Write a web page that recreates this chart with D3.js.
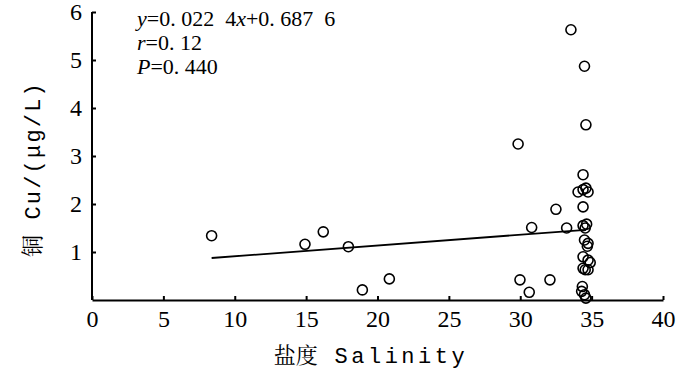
<!DOCTYPE html>
<html>
<head>
<meta charset="utf-8">
<script src="https://cdn.jsdelivr.net/npm/d3@7"></script>
<style>
  body { margin: 0; background: #fff; }
  svg { display: block; }
</style>
</head>
<body>
<svg id="chart" width="700" height="372"></svg>
<script>
// Data
const salinity = [8.38, 14.92, 16.2, 17.96, 18.94, 20.83, 29.85, 29.98, 30.8, 30.63, 32.08, 32.5, 33.55, 33.25,
  34.5, 34.6, 34.4, 34.05, 34.4, 34.6, 34.75, 34.4, 34.4, 34.55, 34.65,
  34.5, 34.75, 34.7, 34.4, 34.75, 34.9, 34.4, 34.55, 34.75, 34.35, 34.3, 34.5, 34.6];
const copper = [1.34, 1.16, 1.42, 1.11, 0.21, 0.44, 3.25, 0.42, 1.51, 0.16, 0.42, 1.89, 5.63, 1.5,
  4.87, 3.65, 2.61, 2.25, 2.3, 2.33, 2.25, 1.94, 1.55, 1.5, 1.58,
  1.25, 1.18, 1.12, 0.9, 0.83, 0.78, 0.66, 0.63, 0.63, 0.28, 0.18, 0.11, 0.04];
const slope = 0.0224, intercept = 0.6876;
const xTicks = [0, 5, 10, 15, 20, 25, 30, 35, 40];
const yTicks = [1, 2, 3, 4, 5, 6];
const xTitleCn = "盐度", xTitleEn = "Salinity";
const yTitleCn = "铜", yTitleEn = "Cu/(μg/L)";

const SERIF = '"Liberation Serif"';
const MONO = '"Liberation Mono"';
const CJK = '"Noto Serif CJK SC"';
const svg = d3.select("#chart");
const x = d3.scaleLinear().domain([0, 40]).range([92, 663]);
const y = d3.scaleLinear().domain([0, 6]).range([300, 12]);

// Axes
const gx = svg.append("g").attr("transform", `translate(0,${y(0)})`)
  .call(d3.axisBottom(x).tickValues(xTicks).tickSizeInner(-4).tickSizeOuter(0).tickPadding(10).tickFormat(d3.format("d")));
const gy = svg.append("g").attr("transform", `translate(${x(0)},0)`)
  .call(d3.axisLeft(y).tickValues(yTicks).tickSizeInner(-4).tickSizeOuter(0).tickPadding(10).tickFormat(d3.format("d")));
[gx, gy].forEach(g => {
  g.attr("font-family", null).attr("font-size", null);
  g.select(".domain").attr("stroke", "#000").attr("stroke-width", 2);
  g.selectAll(".tick line").attr("stroke", "#000").attr("stroke-width", 2);
  g.selectAll(".tick text").style("font-family", SERIF).style("font-size", "24px").attr("fill", "#000");
});
gy.select(".domain").attr("d", `M0,${y(0)}V${y(6)}`);

// Regression line
const xs = d3.extent(salinity);
svg.append("line")
  .attr("x1", x(xs[0])).attr("y1", y(slope * xs[0] + intercept))
  .attr("x2", x(xs[1] - 0.3)).attr("y2", y(slope * (xs[1] - 0.3) + intercept))
  .attr("stroke", "#000").attr("stroke-width", 1.8);

// Points
svg.append("g").selectAll("circle").data(salinity.map((s, i) => [s, copper[i]]))
  .join("circle")
  .attr("cx", d => x(d[0])).attr("cy", d => y(d[1])).attr("r", 5)
  .attr("fill", "none").attr("stroke", "#000").attr("stroke-width", 1.6);

// Annotation
function annot(yPos, parts) {
  const t = svg.append("text").attr("x", 137).attr("y", yPos)
    .style("font-family", SERIF).style("font-size", "22px")
    .attr("xml:space", "preserve").attr("fill", "#000");
  parts.forEach(([s, it]) => t.append("tspan").style("font-style", it ? "italic" : "normal").text(s));
}
annot(26, [["y", 1], ["=0. 022  4", 0], ["x", 1], ["+0. 687  6", 0]]);
annot(50, [["r", 1], ["=0. 12", 0]]);
annot(74, [["P", 1], ["=0. 440", 0]]);

// Axis titles
const xt = svg.append("text").attr("x", 371).attr("y", 363).attr("text-anchor", "middle")
  .style("font-size", "22px").attr("xml:space", "preserve").attr("fill", "#000");
xt.append("tspan").style("font-family", CJK).text(xTitleCn);
xt.append("tspan").style("font-family", MONO).style("letter-spacing", "3.5px").text(" " + xTitleEn);

const yt = svg.append("text").attr("transform", "translate(40,169) rotate(-90)").attr("text-anchor", "middle")
  .style("font-size", "22px").attr("xml:space", "preserve").attr("fill", "#000");
yt.append("tspan").style("font-family", CJK).text(yTitleCn);
yt.append("tspan").style("font-family", MONO).style("letter-spacing", "2.2px").text(" " + yTitleEn);
</script>
</body>
</html>
